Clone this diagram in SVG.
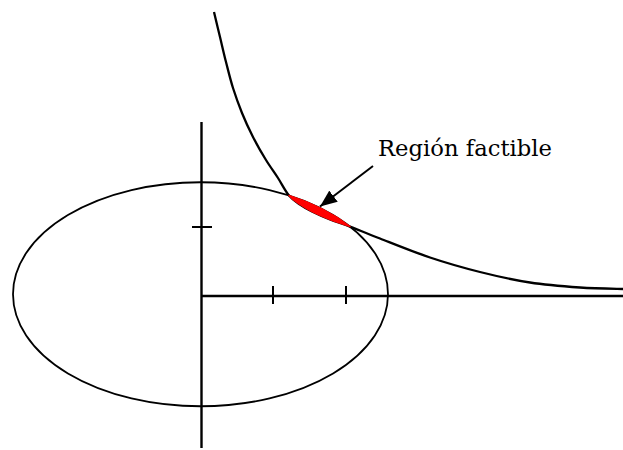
<svg xmlns="http://www.w3.org/2000/svg" width="623" height="450" viewBox="0 0 623 450">
<style>
.ln{fill:none;stroke:#000;stroke-linecap:butt}
.lbl{font-family:"DejaVu Serif","Liberation Serif",serif;font-size:23px;fill:#000}
</style>
<defs>
<marker id="ah" viewBox="0 0 17 14" refX="17" refY="7" markerWidth="17" markerHeight="14" markerUnits="userSpaceOnUse" orient="auto">
<path d="M0,0 L17,7 L0,14 Z" fill="#000"/>
</marker>
</defs>
<rect width="623" height="450" fill="#fff"/>
<g id="axes">
<line class="ln" x1="201.5" y1="122" x2="201.5" y2="448" stroke-width="2.4"/>
<line class="ln" x1="201.5" y1="296" x2="623" y2="296" stroke-width="2.5"/>
<line class="ln" x1="192" y1="227" x2="212" y2="227" stroke-width="2"/>
<line class="ln" x1="273" y1="286" x2="273" y2="304" stroke-width="2"/>
<line class="ln" x1="346" y1="286" x2="346" y2="304" stroke-width="2"/>
</g>
<g id="ellipse">
<ellipse class="ln" cx="200.5" cy="294.25" rx="187.5" ry="112" stroke-width="1.8"/>
</g>
<g id="curve">
<path class="ln" stroke-width="2.3" d="M214,12 C215,16.2 218,28.7 220,37 C222,45.3 223.8,53.5 226,62 C228.2,70.5 230.3,79.5 233,88 C235.7,96.5 238.7,104.8 242,113 C245.3,121.2 249,129.2 253,137 C257,144.8 261.8,153.2 266,160 C270.2,166.8 274.2,172.1 278,178 C281.8,183.9 285.3,191.1 289,195.5 C292.7,199.9 296.2,201.8 300,204.5 C303.8,207.2 307,209 312,211.5 C317,214 323.7,217 330,219.5 C336.3,222 341.7,223.4 350,226.6 C358.3,229.8 366.7,233.4 380,238.5 C393.3,243.7 413.3,251.9 430,257.5 C446.7,263.1 463.3,267.8 480,272 C496.7,276.2 513.3,279.9 530,282.5 C546.7,285.1 564.5,286.4 580,287.5 C595.5,288.6 615.8,288.8 623,289"/>
</g>
<g id="region">
<path fill="#ff0000" stroke="#ff0000" stroke-width="1.5" stroke-linejoin="round" d="M289,195.5 C292.7,199.9 296.2,201.8 300,204.5 C303.8,207.2 307,209 312,211.5 C317,214 323.7,217 330,219.5 C336.3,222 341.7,223.4 350,226.6 A187.5,112 0 0,0 289,195.5 Z"/>
</g>
<g id="connectors">
<line class="ln" x1="373" y1="166" x2="320" y2="206.5" stroke-width="2" marker-end="url(#ah)"/>
</g>
<g id="label">
<text class="lbl" x="378" y="156" textLength="174" lengthAdjust="spacingAndGlyphs">Región factible</text>
</g>
</svg>
